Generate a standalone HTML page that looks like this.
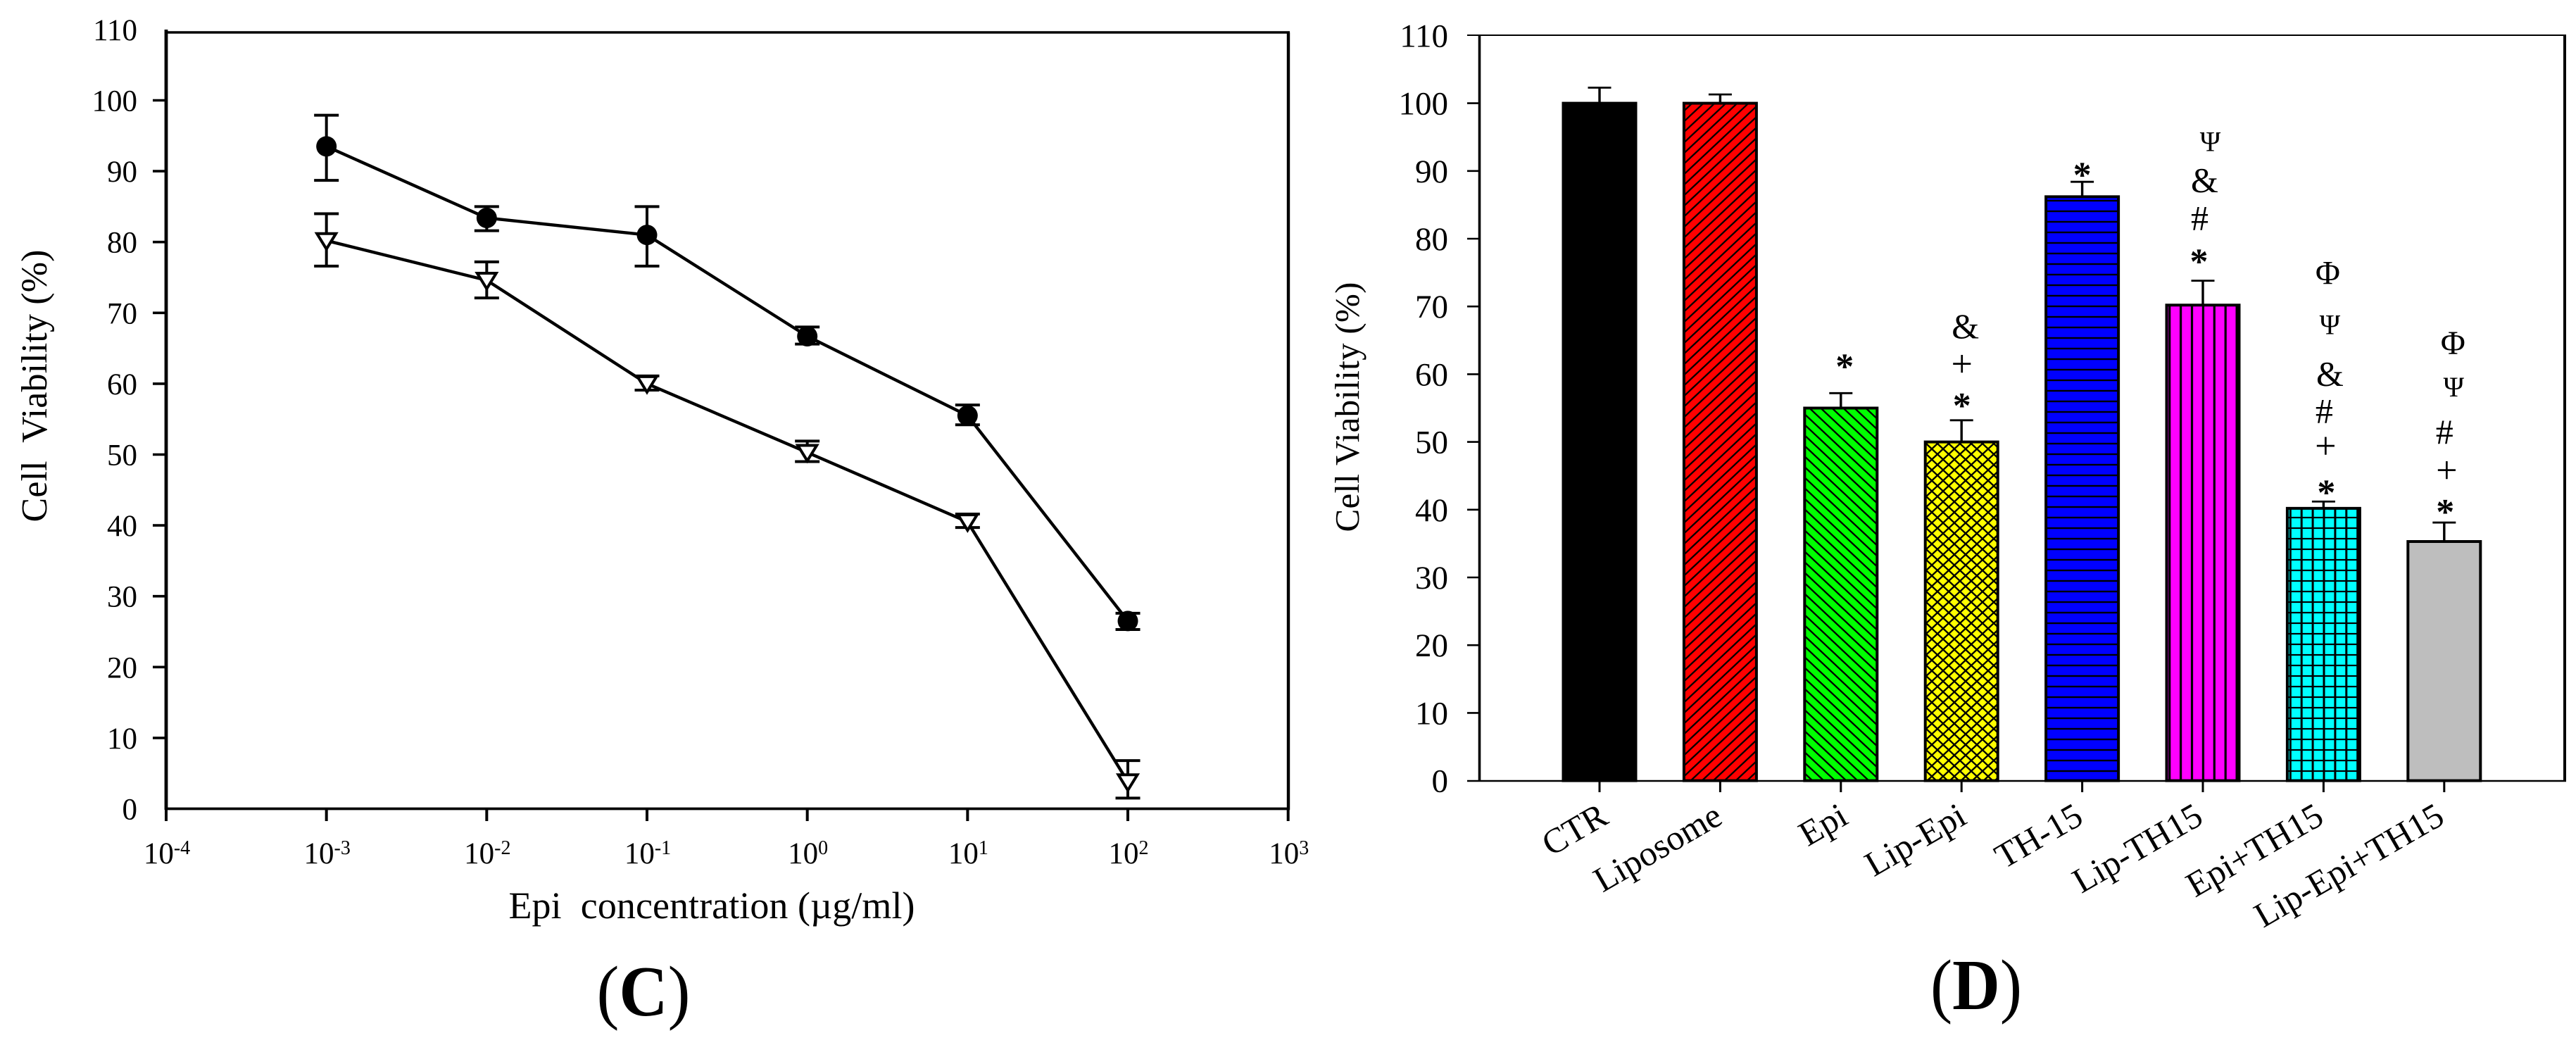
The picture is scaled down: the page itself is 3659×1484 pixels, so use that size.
<!DOCTYPE html>
<html lang="en">
<head>
<meta charset="utf-8">
<title>Cell viability charts</title>
<style>
html,body{margin:0;padding:0;background:#fff;width:3659px;height:1484px;overflow:hidden}
svg{display:block}
text{font-family:"Liberation Serif",serif;fill:#000;white-space:pre}
</style>
</head>
<body>
<svg id="fig" xmlns="http://www.w3.org/2000/svg" width="3659" height="1484" viewBox="0 0 3659 1484">
<defs>
<pattern id="hatch-red" patternUnits="userSpaceOnUse" width="16" height="15"><rect width="16" height="15" fill="#ff0000"/><path d="M-4,3.75L4,-3.75M0,15L16,0M12,18.75L20,11.25" stroke="#000" stroke-width="2.3" fill="none"/></pattern>
<pattern id="hatch-green" patternUnits="userSpaceOnUse" width="16" height="15"><rect width="16" height="15" fill="#00ff00"/><path d="M-4,11.25L4,18.75M0,0L16,15M12,-3.75L20,3.75" stroke="#000" stroke-width="2.3" fill="none"/></pattern>
<pattern id="hatch-yellow" patternUnits="userSpaceOnUse" width="16" height="15"><rect width="16" height="15" fill="#ffff00"/><path d="M-4,3.75L4,-3.75M0,15L16,0M12,18.75L20,11.25M-4,11.25L4,18.75M0,0L16,15M12,-3.75L20,3.75" stroke="#000" stroke-width="2.4" fill="none"/></pattern>
<pattern id="hatch-blue" patternUnits="userSpaceOnUse" width="16" height="15"><rect width="16" height="15" fill="#0000ff"/><rect y="-1.2" width="16" height="2.4" fill="#000"/><rect y="13.8" width="16" height="2.4" fill="#000"/></pattern>
<pattern id="hatch-magenta" patternUnits="userSpaceOnUse" x="3081.7" width="15.9" height="15"><rect width="15.9" height="15" fill="#ff00ff"/><rect x="-1.6" width="3.2" height="15" fill="#000"/><rect x="14.3" width="3.2" height="15" fill="#000"/></pattern>
<pattern id="hatch-cyan" patternUnits="userSpaceOnUse" x="3253.3" width="15.9" height="15"><rect width="15.9" height="15" fill="#00ffff"/><rect x="-1.5" width="3" height="15" fill="#000"/><rect x="14.4" width="3" height="15" fill="#000"/><rect y="-1.1" width="15.9" height="2.2" fill="#000"/><rect y="13.9" width="15.9" height="2.2" fill="#000"/></pattern>
</defs>
<g id="panel-c"></g>
<g id="panel-d"></g>
<text x="914" y="1442" font-size="102" text-anchor="middle" textLength="133" lengthAdjust="spacingAndGlyphs">(<tspan font-weight="bold">C</tspan>)</text>
<text x="2807" y="1433" font-size="102" text-anchor="middle" textLength="130" lengthAdjust="spacingAndGlyphs">(<tspan font-weight="bold">D</tspan>)</text>
</svg>
<script>
// ---- Panel C data ----
const concentrations = [0.001, 0.01, 0.1, 1, 10, 100];
const circleMeans = [93.5, 83.4, 81, 66.7, 55.5, 26.5];
const circleUpper = [97.9, 85, 85, 68, 57, 27.6];
const circleLower = [88.7, 81.6, 76.6, 65.6, 54.2, 25.3];
const triangleMeans = [80.2, 74.6, 60, 50.3, 40.5, 3.8];
const triangleUpper = [84, 77.2, 61.1, 51.9, 41.6, 6.8];
const triangleLower = [76.6, 72.1, 59.1, 49, 39.7, 1.5];
const cYTicks = [0, 10, 20, 30, 40, 50, 60, 70, 80, 90, 100, 110];
const cXExponents = [-4, -3, -2, -1, 0, 1, 2, 3];

// ---- Panel D data ----
const barCategories = ["CTR", "Liposome", "Epi", "Lip-Epi", "TH-15", "Lip-TH15", "Epi+TH15", "Lip-Epi+TH15"];
const barValues = [100, 100, 55, 50, 86.2, 70.2, 40.2, 35.3];
const barErrorTops = [102.3, 101.3, 57.2, 53.2, 88.4, 73.8, 41.2, 38.1];
const dYTicks = [0, 10, 20, 30, 40, 50, 60, 70, 80, 90, 100, 110];
const barMarks = [[], [], ["*"], ["&", "+", "*"], ["*"], ["Ψ", "&", "#", "*"], ["Φ", "Ψ", "&", "#", "+", "*"], ["Φ", "Ψ", "#", "+", "*"]];

// ---- Layout (not data) ----
const barFills = ["#000000", "url(#hatch-red)", "url(#hatch-green)", "url(#hatch-yellow)", "url(#hatch-blue)", "url(#hatch-magenta)", "url(#hatch-cyan)", "#bebebe"];
const labelNudge = [15, 6, 13, 10, 4, 3, 3, 3];
const markDx = [[], [], [5.5], [5.5, 0.5, 0.5], [0], [10.5, 2.5, -4.5, -5.5], [6, 9, 9, 1, 3, 4], [12.5, 13.5, 0.5, 3.5, 1.5]];
const markLift = [[], [], [46], [132.6, 75.6, 28.6], [17.5], [197, 142, 88, 35], [325, 251, 181, 128, 75, 21], [255, 192, 128, 70, 23]];
const glyphSize = {"*": 52, "&": 50, "#": 50, "+": 54, "Φ": 48, "Ψ": 40};
const glyphRise = {"*": 25, "&": 16, "#": 16, "+": 13.5, "Φ": 16, "Ψ": 13};

const NS = "http://www.w3.org/2000/svg";
function make(parent, tag, attrs, txt) {
  const e = document.createElementNS(NS, tag);
  for (const k in attrs) e.setAttribute(k, attrs[k]);
  if (txt !== undefined) e.textContent = txt;
  parent.appendChild(e);
  return e;
}

// Axis functions
function cx(v) { return 236 + (Math.log10(v) + 4) * 227.67; }
function cy(v) { return 1148.5 - v * 10.06; }
function dx(i) { return 2272 + 171.4 * i; }
function dy(v) { return 1108.6 - v * 9.62; }

// ===== Panel C =====
const pc = document.getElementById("panel-c");
let n;

n = make(pc, "line", {x1: 234, y1: 46, x2: 1832, y2: 46, stroke: "#000", "stroke-width": 3.4});


n = make(pc, "line", {x1: 236, y1: 42, x2: 236, y2: 1150, stroke: "#000", "stroke-width": 4.8});


n = make(pc, "line", {x1: 1830, y1: 46, x2: 1830, y2: 1150, stroke: "#000", "stroke-width": 4.4});


n = make(pc, "line", {x1: 234, y1: 1148.5, x2: 1832, y2: 1148.5, stroke: "#000", "stroke-width": 3.8});



cYTicks.forEach(function (t) {
  if (t > 0 && t < 110) {
    const tk = make(pc, "line", {x1: 217, y1: cy(t), x2: 236, y2: cy(t), stroke: "#000", "stroke-width": 3.6});
    
    
  }
  const lb = make(pc, "text", {x: 195, y: cy(t) + 15, "font-size": 43, "text-anchor": "end"}, String(t));
  
  
});

cXExponents.forEach(function (ex) {
  const px = cx(Math.pow(10, ex));
  const tk = make(pc, "line", {x1: px, y1: 1148.5, x2: px, y2: 1166, stroke: "#000", "stroke-width": 4});
  
  
  const lb = make(pc, "text", {x: px + 1, y: 1226, "font-size": 43, "text-anchor": "middle"}, "10");
  
  
  const sp = make(lb, "tspan", {"font-size": 28, dy: -13}, String(ex));
  
  
});

function drawErrors(xs, up, lo, name) {
  xs.forEach(function (x, i) {
    const px = cx(x);
    const v = make(pc, "line", {x1: px, y1: cy(up[i]), x2: px, y2: cy(lo[i]), stroke: "#000", "stroke-width": 4});
    
    
    [up[i], lo[i]].forEach(function (val) {
      const c = make(pc, "line", {x1: px - 17.5, y1: cy(val), x2: px + 17.5, y2: cy(val), stroke: "#000", "stroke-width": 4});
      
      
    });
  });
}
drawErrors(concentrations, circleUpper, circleLower, 'circle');
drawErrors(concentrations, triangleUpper, triangleLower, 'triangle');

function linePoints(xs, ys) {
  return xs.map(function (x, i) { return cx(x) + "," + cy(ys[i]); }).join(" ");
}
n = make(pc, "polyline", {points: linePoints(concentrations, circleMeans), fill: "none", stroke: "#000", "stroke-width": 4.4});


n = make(pc, "polyline", {points: linePoints(concentrations, triangleMeans), fill: "none", stroke: "#000", "stroke-width": 4.4});



concentrations.forEach(function (x, i) {
  const c = make(pc, "circle", {cx: cx(x), cy: cy(circleMeans[i]), r: 14.5, fill: "#000"});
  
  
  const px = cx(x), py = cy(triangleMeans[i]);
  const t = make(pc, "polygon", {points: (px - 13.5) + "," + (py - 10) + " " + (px + 13.5) + "," + (py - 10) + " " + px + "," + (py + 12), fill: "#fff", stroke: "#000", "stroke-width": 4});
  
  
});

n = make(pc, "text", {x: 0, y: 0, "font-size": 52, "text-anchor": "middle", textLength: 387, transform: "translate(66,548) rotate(-90)"}, "Cell  Viability (%)");


n = make(pc, "text", {x: 1011, y: 1304, "font-size": 54, "text-anchor": "middle", textLength: 577}, "Epi  concentration (µg/ml)");



// ===== Panel D =====
const pd = document.getElementById("panel-d");

barValues.forEach(function (v, i) {
  const px = dx(i);
  const s = make(pd, "line", {x1: px, y1: dy(v), x2: px, y2: dy(barErrorTops[i]), stroke: "#000", "stroke-width": 3.4});
  
  
  const c = make(pd, "line", {x1: px - 16.5, y1: dy(barErrorTops[i]), x2: px + 16.5, y2: dy(barErrorTops[i]), stroke: "#000", "stroke-width": 2.8});
  
  
  const r = make(pd, "rect", {x: px - 51.5, y: dy(v), width: 103, height: dy(0) - dy(v), fill: barFills[i], stroke: "#000", "stroke-width": 4});
  
  
  const tk = make(pd, "line", {x1: px, y1: dy(0), x2: px, y2: 1125, stroke: "#000", "stroke-width": 3});
  
  
  const ax = px + labelNudge[i];
  const lb = make(pd, "text", {x: 0, y: 0, "font-size": 50, "text-anchor": "end", transform: "translate(" + ax + ",1168) rotate(-30)"}, barCategories[i]);
  
  
  barMarks[i].forEach(function (g, j) {
    const gy = dy(barErrorTops[i]) - markLift[i][j] + glyphRise[g];
    const m = make(pd, "text", {x: px + markDx[i][j], y: gy, "font-size": glyphSize[g], "text-anchor": "middle", "font-weight": g === "*" ? "bold" : "normal"}, g);
    
    
  });
});

n = make(pd, "line", {x1: 2084, y1: 50, x2: 3645, y2: 50, stroke: "#000", "stroke-width": 2});


n = make(pd, "line", {x1: 2101.5, y1: 49, x2: 2101.5, y2: 1110, stroke: "#000", "stroke-width": 3.6});


n = make(pd, "line", {x1: 3643, y1: 49, x2: 3643, y2: 1110, stroke: "#000", "stroke-width": 4});


n = make(pd, "line", {x1: 2084, y1: 1109, x2: 3645, y2: 1109, stroke: "#000", "stroke-width": 2.4});



dYTicks.forEach(function (t) {
  if (t > 0 && t < 110) {
    const tk = make(pd, "line", {x1: 2084, y1: dy(t), x2: 2101, y2: dy(t), stroke: "#000", "stroke-width": 2.6});
    
    
  }
  const lb = make(pd, "text", {x: 2057, y: dy(t) + 16, "font-size": 47, "text-anchor": "end"}, String(t));
  
  
});

n = make(pd, "text", {x: 0, y: 0, "font-size": 49, "text-anchor": "middle", textLength: 355, transform: "translate(1930,578) rotate(-90)"}, "Cell Viability (%)");


</script>
</body>
</html>
